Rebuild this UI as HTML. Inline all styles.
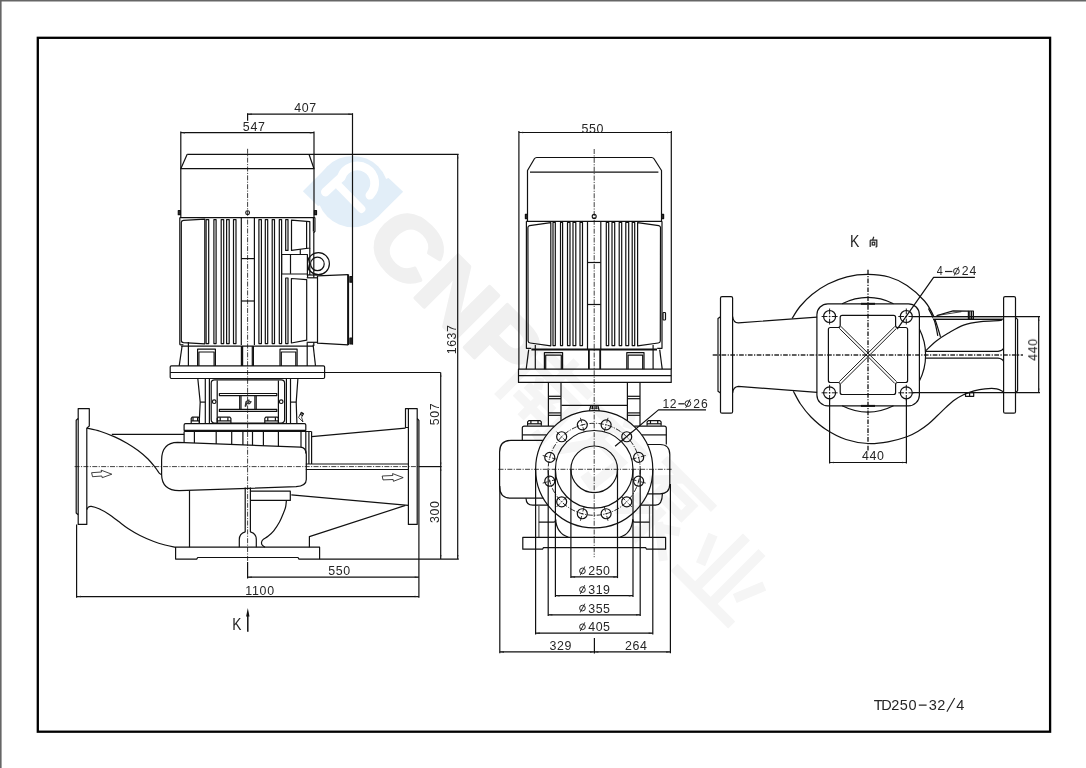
<!DOCTYPE html>
<html><head><meta charset="utf-8"><title>TD250-32/4</title>
<style>
html,body{margin:0;padding:0;background:#fff;}
body{width:1086px;height:768px;overflow:hidden;font-family:"Liberation Sans",sans-serif;}
svg{display:block;position:absolute;left:0;top:0;}
svg text{font-family:"Liberation Sans",sans-serif;fill:#262626;}
#txt{opacity:0.999;}
</style></head><body>
<svg width="1086" height="768" viewBox="0 0 1086 768">
<rect x="0" y="0" width="1086" height="768" fill="#fff"/>
<g id="wm">
<g fill="#e2eef8" stroke="none">
<circle cx="352.7" cy="191.6" r="35.7"/>
<path d="M327.5,166.4 L302.9,191.2 L318,206 L352.7,191.6Z"/>
<path d="M377.9,216.8 L403.1,191.8 L388.5,178 L352.7,191.6Z"/>
</g>
<g fill="none" stroke="#fff" stroke-linecap="round" stroke-linejoin="round">
<path d="M325.4,192 L341.1,177.4 A17.3,17.3 0 1 1 369.9,195.2" stroke-width="8.8"/>
<path d="M339.5,186.5 L361.5,209" stroke-width="7.8"/>
</g>
<g transform="translate(361.2,244.1) rotate(45) scale(1.1,1)">
<text x="0" y="0" font-size="88" font-weight="bold" style="fill:#f0f0f0;stroke:#f0f0f0;stroke-width:3.5;stroke-linejoin:round">CNP</text>
</g>
<g transform="translate(547,391) rotate(45) scale(1.1)" fill="none" stroke="#f5f5f5" stroke-width="8" stroke-linecap="butt" stroke-linejoin="miter">
<path d="M-32,-24 L32,-24"/>
<path d="M0,-38 L0,-12"/>
<path d="M-28,36 L-28,-10 L28,-10 L28,36 L18,34"/>
<path d="M-13,-4 L-7,5"/>
<path d="M13,-4 L7,5"/>
<path d="M-17,9 L17,9"/>
<path d="M-19,21 L19,21"/>
<path d="M0,9 L0,34"/>
</g>
<g transform="translate(603,446) rotate(45) scale(1.1)" fill="none" stroke="#f5f5f5" stroke-width="9" stroke-linecap="butt" stroke-linejoin="miter">
<path d="M-2,-38 L4,-27"/>
<path d="M-35,-20 L35,-20"/>
<path d="M-6,-20 L-10,8 L-30,36"/>
<path d="M-9,-1 L22,-1 L18,32 L6,30"/>
</g>
<g transform="translate(665,508) rotate(45) scale(1.1)" fill="none" stroke="#f5f5f5" stroke-width="8" stroke-linecap="butt" stroke-linejoin="miter">
<path d="M-32,-31 L32,-31"/>
<path d="M-6,-31 L-28,-8"/>
<path d="M-14,-19 L16,-19 L16,-5 L-14,-5 L-14,-19"/>
<path d="M0,2 L0,36 L-8,32"/>
<path d="M-28,11 L-9,11 L-31,33"/>
<path d="M25,6 L8,17"/>
<path d="M5,13 L33,35"/>
</g>
<g transform="translate(727,572) rotate(45) scale(1.1)" fill="none" stroke="#f5f5f5" stroke-width="9" stroke-linecap="butt" stroke-linejoin="miter">
<path d="M-10,-35 L-10,29"/>
<path d="M10,-35 L10,29"/>
<path d="M-33,-15 L-22,12"/>
<path d="M33,-15 L22,12"/>
<path d="M-37,31 L37,31"/>
</g>
</g>
<rect x="0" y="0" width="1086" height="1.5" fill="#666"/>
<rect x="0" y="0" width="1.6" height="768" fill="#666"/>
<rect x="37.8" y="37.8" width="1012.3" height="693.9" fill="none" stroke="#000" stroke-width="2.3"/>
<g fill="none" stroke="#111" stroke-width="1.2" stroke-linecap="butt" stroke-linejoin="round">
<line x1="247.60" y1="148.80" x2="247.60" y2="562.00" stroke-width="0.8" stroke-dasharray="5 1.35 1.15 1.35"/>
<line x1="74.60" y1="466.60" x2="419.00" y2="466.60" stroke-width="0.8" stroke-dasharray="5 1.35 1.15 1.35"/>
<line x1="418.90" y1="466.60" x2="441.60" y2="466.60"/>
<line x1="187.20" y1="154.30" x2="458.60" y2="154.30"/>
<path d="M187.20,154.30 L180.80,168.70 L314.00,168.70 L309.00,154.30"/>
<line x1="180.80" y1="131.50" x2="180.80" y2="217.60"/>
<line x1="314.00" y1="131.50" x2="314.00" y2="217.60"/>
<line x1="179.80" y1="217.60" x2="314.90" y2="217.60"/>
<rect x="178.30" y="210.50" width="2.10" height="4.20" rx="0" fill="#333"/>
<rect x="314.40" y="210.50" width="2.10" height="4.20" rx="0" fill="#333"/>
<circle cx="247.60" cy="212.70" r="1.90" stroke-width="1.1"/>
<line x1="179.80" y1="217.60" x2="179.80" y2="344.80"/>
<line x1="313.80" y1="231.40" x2="313.80" y2="277.80"/>
<line x1="313.80" y1="342.30" x2="313.80" y2="346.10"/>
<line x1="181.10" y1="346.10" x2="313.60" y2="346.10"/>
<path d="M181.3,222.5 Q181.3,220.7 183.5,220.4 L204.8,219.2 L204.8,343.8 L183.5,342.6 Q181.3,342.4 181.3,340.5 Z"/>
<rect x="206.10" y="219.60" width="2.60" height="124.00" rx="0"/>
<rect x="213.90" y="219.60" width="2.20" height="124.00" rx="0"/>
<rect x="221.20" y="219.60" width="2.50" height="124.00" rx="0"/>
<rect x="226.60" y="219.60" width="2.60" height="124.00" rx="0"/>
<rect x="233.50" y="219.60" width="2.50" height="124.00" rx="0"/>
<rect x="258.90" y="219.60" width="2.50" height="124.00" rx="0"/>
<rect x="265.30" y="219.60" width="2.40" height="124.00" rx="0"/>
<rect x="272.20" y="219.60" width="2.30" height="124.00" rx="0"/>
<rect x="279.30" y="219.60" width="2.30" height="124.00" rx="0"/>
<rect x="285.70" y="219.60" width="2.30" height="30.80" rx="0"/>
<rect x="285.70" y="278.00" width="2.30" height="65.60" rx="0"/>
<line x1="241.30" y1="217.60" x2="241.30" y2="345.00"/>
<line x1="254.40" y1="217.60" x2="254.40" y2="345.00"/>
<line x1="241.30" y1="258.60" x2="254.40" y2="258.60"/>
<line x1="241.30" y1="301.00" x2="254.40" y2="301.00"/>
<path d="M291.50,220.10 L309.80,221.60 L309.80,248.00 L291.50,250.40Z"/>
<line x1="306.60" y1="221.30" x2="306.60" y2="248.40"/>
<line x1="300.30" y1="249.30" x2="300.30" y2="254.50"/>
<line x1="313.40" y1="217.60" x2="313.40" y2="231.40"/>
<line x1="309.80" y1="248.00" x2="309.80" y2="275.00"/>
<path d="M314.90,217.60 L314.90,231.40 L313.80,232.60"/>
<rect x="281.60" y="254.50" width="25.80" height="19.50" rx="0"/>
<line x1="290.50" y1="254.50" x2="290.50" y2="273.80"/>
<clipPath id="ringclip"><rect x="307.4" y="250" width="30" height="30"/></clipPath>
<circle cx="318.4" cy="263.7" r="11" clip-path="url(#ringclip)"/>
<circle cx="317.40" cy="263.90" r="6.80"/>
<path d="M307.4,256.9 Q311.6,263.9 307.4,271.2"/>
<path d="M291.40,278.50 L306.70,279.70 L306.70,340.20 L291.40,343.00Z"/>
<line x1="306.70" y1="277.80" x2="317.50" y2="277.80"/>
<line x1="306.70" y1="342.30" x2="317.50" y2="342.30"/>
<line x1="307.60" y1="274.00" x2="307.60" y2="277.80"/>
<line x1="306.70" y1="275.00" x2="317.50" y2="275.00"/>
<path d="M348.10,274.60 L317.50,275.90 L317.50,343.20 L348.10,344.90"/>
<line x1="348.10" y1="274.30" x2="348.10" y2="345.10" stroke-width="2.0"/>
<rect x="349.90" y="276.60" width="2.30" height="5.60" rx="0" fill="#333"/>
<rect x="349.90" y="338.00" width="2.30" height="5.80" rx="0" fill="#333"/>
<line x1="352.50" y1="113.20" x2="352.50" y2="344.60"/>
<path d="M179.80,344.80 L183.40,344.80"/>
<path d="M182.10,346.00 L179.20,365.90"/>
<line x1="188.40" y1="342.00" x2="188.40" y2="365.90"/>
<path d="M313.10,344.80 L315.50,365.90"/>
<line x1="307.20" y1="342.80" x2="307.20" y2="365.90"/>
<path d="M197.60,365.90 L197.60,349.20 L215.40,349.20 L215.40,365.90"/>
<path d="M198.90,365.90 L198.90,352.00 L214.10,352.00 L214.10,365.90"/>
<path d="M280.00,365.90 L280.00,349.20 L297.10,349.20 L297.10,365.90"/>
<path d="M281.30,365.90 L281.30,352.00 L295.80,352.00 L295.80,365.90"/>
<line x1="241.40" y1="346.10" x2="241.40" y2="365.90"/>
<line x1="253.40" y1="346.10" x2="253.40" y2="365.90"/>
<line x1="242.60" y1="346.10" x2="242.60" y2="365.90"/>
<line x1="252.30" y1="346.10" x2="252.30" y2="365.90"/>
<rect x="170.20" y="365.90" width="154.40" height="12.60" rx="1.2"/>
<line x1="170.20" y1="372.50" x2="440.70" y2="372.50"/>
<path d="M197.80,378.50 L200.20,402.10 L199.20,422.80"/>
<line x1="200.20" y1="402.10" x2="205.30" y2="402.10"/>
<line x1="205.30" y1="378.50" x2="205.30" y2="423.00"/>
<line x1="209.40" y1="378.50" x2="209.40" y2="423.00"/>
<path d="M297.90,378.50 L296.20,402.10 L296.90,423.00"/>
<line x1="290.50" y1="402.10" x2="296.20" y2="402.10"/>
<line x1="286.40" y1="378.50" x2="286.40" y2="423.00"/>
<line x1="290.50" y1="378.50" x2="290.50" y2="423.00"/>
<rect x="211.20" y="379.80" width="73.40" height="43.20" rx="3.4"/>
<line x1="217.20" y1="380.50" x2="217.20" y2="422.50"/>
<line x1="278.40" y1="380.50" x2="278.40" y2="422.50"/>
<rect x="219.40" y="393.50" width="57.40" height="2.10" rx="0"/>
<rect x="219.40" y="409.40" width="57.40" height="2.00" rx="0"/>
<circle cx="214.20" cy="401.70" r="1.80"/>
<circle cx="281.20" cy="401.70" r="1.80"/>
<line x1="239.70" y1="395.60" x2="239.70" y2="409.40"/>
<line x1="241.00" y1="395.60" x2="241.00" y2="409.40"/>
<line x1="254.90" y1="395.60" x2="254.90" y2="409.40"/>
<line x1="256.20" y1="395.60" x2="256.20" y2="409.40"/>
<path d="M244.6,406.6 L245.4,401.6 L247.4,399.9 L249.3,399.3 L249.7,400.9 L251.7,400.9 L251.1,403 L249.1,404.4 L247.3,404.1 L246,406.9Z" fill="#333" stroke="none"/>
<path d="M246.6,402.6 L248.4,401.4 M248.8,402.9 L250.2,402" stroke="#ddd" stroke-width="0.6"/>
<path d="M191.20,423.00 L191.20,418.30 L192.20,417.20 L198.40,417.20 L199.40,418.30 L199.40,423.00"/>
<line x1="191.20" y1="420.90" x2="199.40" y2="420.90"/>
<line x1="193.00" y1="417.20" x2="193.00" y2="420.90"/>
<line x1="197.60" y1="417.20" x2="197.60" y2="420.90"/>
<path d="M217.20,423.00 L217.20,418.30 L218.20,417.20 L229.90,417.20 L230.90,418.30 L230.90,423.00"/>
<line x1="217.20" y1="420.90" x2="230.90" y2="420.90"/>
<line x1="220.21" y1="417.20" x2="220.21" y2="420.90"/>
<line x1="227.89" y1="417.20" x2="227.89" y2="420.90"/>
<path d="M264.80,423.00 L264.80,418.30 L265.80,417.20 L277.40,417.20 L278.40,418.30 L278.40,423.00"/>
<line x1="264.80" y1="420.90" x2="278.40" y2="420.90"/>
<line x1="267.79" y1="417.20" x2="267.79" y2="420.90"/>
<line x1="275.41" y1="417.20" x2="275.41" y2="420.90"/>
<path d="M298.6,417.5 L301.2,412.2 L303.6,413.4 L301.6,417.2 L303,422Z" fill="none" stroke-width="0.8"/>
<path d="M300.8,412.6 L303.8,414.2 M300,414.2 L303,415.8" stroke-width="1.2"/>
<path d="M184.1,430.3 L184.1,425 Q184.1,423.6 185.5,423.6 L304.4,423.6 Q305.8,423.6 305.8,425 L305.8,430.3Z"/>
<line x1="184.10" y1="431.50" x2="311.50" y2="431.50"/>
<line x1="184.10" y1="431.50" x2="184.10" y2="442.62"/>
<line x1="194.40" y1="431.50" x2="194.40" y2="443.02"/>
<line x1="216.20" y1="431.50" x2="216.20" y2="443.88"/>
<line x1="231.70" y1="431.50" x2="231.70" y2="444.49"/>
<line x1="242.90" y1="431.50" x2="242.90" y2="444.94"/>
<line x1="252.50" y1="431.50" x2="252.50" y2="445.31"/>
<line x1="263.40" y1="431.50" x2="263.40" y2="445.74"/>
<line x1="278.40" y1="431.50" x2="278.40" y2="446.34"/>
<line x1="301.00" y1="431.50" x2="301.00" y2="447.23"/>
<line x1="305.80" y1="431.50" x2="305.80" y2="453.40"/>
<path d="M300.3,447.2 L177.6,442.4 Q161.6,442.6 161.6,460.3 L161.6,474.5 Q161.8,490.4 179.1,490.7 L296.1,486.7 Q306.3,486 306.3,479.5 L306.3,454 Q306,447.6 300.3,447.2"/>
<path d="M78.20,408.60 L89.30,408.60 L89.30,426.00 L86.80,428.10 L86.80,524.40 L78.20,524.40Z"/>
<path d="M78.20,418.50 L76.20,420.30 L76.20,513.00 L78.20,514.80"/>
<path d="M86.80,428.10 C89.00,428.62 95.35,429.73 100.00,431.20 C104.65,432.67 110.20,434.90 114.70,436.90 C119.20,438.90 123.10,440.93 127.00,443.20 C130.90,445.47 134.60,447.87 138.10,450.50 C141.60,453.13 145.07,456.07 148.00,459.00 C150.93,461.93 153.87,465.80 155.70,468.10 C157.53,470.40 158.08,471.75 159.00,472.80 C159.92,473.85 160.83,474.13 161.20,474.40"/>
<line x1="111.80" y1="434.30" x2="184.10" y2="434.30"/>
<path d="M86.80,509.60 C87.05,509.20 87.55,507.73 88.30,507.20 C89.05,506.67 89.52,506.13 91.30,506.40 C93.08,506.67 96.08,507.50 99.00,508.80 C101.92,510.10 105.63,512.17 108.80,514.20 C111.97,516.23 114.73,518.57 118.00,521.00 C121.27,523.43 124.73,526.38 128.40,528.80 C132.07,531.22 135.77,533.38 140.00,535.50 C144.23,537.62 149.63,539.92 153.80,541.50 C157.97,543.08 161.40,544.02 165.00,545.00 C168.60,545.98 173.67,547.00 175.40,547.40"/>
<path d="M91.6,472.7 L101.5,472 L101.2,470.2 L111.8,474.2 L102.2,477.7 L101.9,476 L92.5,476.7Z" stroke-width="0.8"/>
<line x1="189.50" y1="490.50" x2="189.50" y2="547.20"/>
<path d="M245.2,487.6 L245.2,531.8 Q239.3,533.5 239.3,539.5 L239.3,547.2"/>
<path d="M250.4,487.4 L250.4,531.8 Q256.3,533.5 256.3,539.5 L256.3,547.2"/>
<path d="M250.40,491.20 L290.30,491.20 L290.30,500.40 L250.40,500.40"/>
<path d="M286.40,500.40 C286.27,501.50 286.10,504.87 285.60,507.00 C285.10,509.13 284.42,510.70 283.40,513.20 C282.38,515.70 281.12,519.07 279.50,522.00 C277.88,524.93 275.62,528.42 273.70,530.80 C271.78,533.18 269.78,534.83 268.00,536.30 C266.22,537.77 264.07,538.65 263.00,539.60 C261.93,540.55 261.77,541.13 261.60,542.00 C261.43,542.87 261.45,543.93 262.00,544.80 C262.55,545.67 264.42,546.80 264.90,547.20"/>
<path d="M175.60,547.20 L319.60,547.20 L319.60,559.10 L299.00,559.10 L298.00,557.50 L197.70,557.50 L196.70,559.10 L175.60,559.10Z"/>
<line x1="319.60" y1="559.10" x2="458.80" y2="559.10"/>
<line x1="308.90" y1="431.50" x2="308.90" y2="464.00"/>
<line x1="311.60" y1="431.50" x2="311.60" y2="464.00"/>
<line x1="311.60" y1="436.60" x2="405.50" y2="428.10"/>
<path d="M408.40,408.60 L417.20,408.60 L417.20,524.40 L408.40,524.40Z"/>
<path d="M408.40,408.60 L405.50,408.60 L405.50,427.50 L408.40,427.50"/>
<path d="M417.20,418.50 L418.90,420.30 L418.90,513.00"/>
<line x1="418.90" y1="513.00" x2="418.90" y2="597.80"/>
<line x1="305.80" y1="464.00" x2="408.40" y2="464.00"/>
<line x1="305.80" y1="469.50" x2="408.40" y2="469.50"/>
<line x1="291.30" y1="494.90" x2="405.50" y2="505.20"/>
<line x1="405.50" y1="505.20" x2="408.40" y2="505.40"/>
<path d="M405.50,505.40 L309.40,536.60 L309.40,547.20"/>
<path d="M382.2,476 L392.8,475.5 L392.6,473.6 L403.2,477.6 L393.4,481.3 L393.2,479.5 L383,479.9Z" stroke-width="0.8"/>
<line x1="247.60" y1="113.20" x2="247.60" y2="120.80"/>
<line x1="247.60" y1="114.20" x2="352.50" y2="114.20"/>
<path d="M247.60,114.20 L251.80,113.45 L251.80,114.95Z" fill="#222" stroke="none"/>
<path d="M352.50,114.20 L348.30,114.95 L348.30,113.45Z" fill="#222" stroke="none"/>
<line x1="180.80" y1="132.70" x2="314.00" y2="132.70"/>
<path d="M180.80,132.70 L185.00,131.95 L185.00,133.45Z" fill="#222" stroke="none"/>
<path d="M314.00,132.70 L309.80,133.45 L309.80,131.95Z" fill="#222" stroke="none"/>
<line x1="457.70" y1="154.30" x2="457.70" y2="559.10"/>
<path d="M457.70,154.30 L458.45,158.50 L456.95,158.50Z" fill="#222" stroke="none"/>
<path d="M457.70,559.10 L456.95,554.90 L458.45,554.90Z" fill="#222" stroke="none"/>
<line x1="440.70" y1="372.60" x2="440.70" y2="466.60"/>
<path d="M440.70,372.60 L441.45,376.80 L439.95,376.80Z" fill="#222" stroke="none"/>
<path d="M440.70,466.60 L439.95,462.40 L441.45,462.40Z" fill="#222" stroke="none"/>
<line x1="440.70" y1="466.60" x2="440.70" y2="559.10"/>
<path d="M440.70,466.60 L441.45,470.80 L439.95,470.80Z" fill="#222" stroke="none"/>
<path d="M440.70,559.10 L439.95,554.90 L441.45,554.90Z" fill="#222" stroke="none"/>
<line x1="247.60" y1="562.00" x2="247.60" y2="578.50"/>
<line x1="247.60" y1="577.20" x2="418.90" y2="577.20"/>
<path d="M247.60,577.20 L251.80,576.45 L251.80,577.95Z" fill="#222" stroke="none"/>
<path d="M418.90,577.20 L414.70,577.95 L414.70,576.45Z" fill="#222" stroke="none"/>
<line x1="76.60" y1="524.40" x2="76.60" y2="597.80"/>
<line x1="76.60" y1="596.60" x2="418.90" y2="596.60"/>
<path d="M76.60,596.60 L80.80,595.85 L80.80,597.35Z" fill="#222" stroke="none"/>
<path d="M418.90,596.60 L414.70,597.35 L414.70,595.85Z" fill="#222" stroke="none"/>
<line x1="247.80" y1="614.00" x2="247.80" y2="631.70" stroke-width="1.5"/>
<path d="M247.8,608 L249.5,616.5 L246.1,616.5Z" fill="#111" stroke="none"/>
<line x1="594.20" y1="149.00" x2="594.20" y2="557.20" stroke-width="0.8" stroke-dasharray="5 1.35 1.15 1.35"/>
<line x1="498.50" y1="469.30" x2="672.80" y2="469.30" stroke-width="0.8" stroke-dasharray="5 1.35 1.15 1.35"/>
<line x1="518.90" y1="131.00" x2="518.90" y2="369.30"/>
<line x1="671.30" y1="131.00" x2="671.30" y2="369.30"/>
<line x1="518.90" y1="132.50" x2="671.30" y2="132.50"/>
<path d="M518.90,132.50 L523.10,131.75 L523.10,133.25Z" fill="#222" stroke="none"/>
<path d="M671.30,132.50 L667.10,133.25 L667.10,131.75Z" fill="#222" stroke="none"/>
<path d="M527.5,221.3 L527.5,170.5 L534.4,158.8 Q535.2,157.5 536.8,157.5 L651.6,157.5 Q653.2,157.5 654,158.8 L661.5,170.5 L661.5,221.3"/>
<line x1="530.00" y1="172.10" x2="658.40" y2="172.10"/>
<rect x="525.40" y="214.30" width="1.90" height="4.30" rx="0" fill="#333"/>
<rect x="661.70" y="214.30" width="1.90" height="4.30" rx="0" fill="#333"/>
<circle cx="594.20" cy="216.40" r="2.00" stroke-width="1.1"/>
<line x1="526.20" y1="221.30" x2="662.00" y2="221.30"/>
<path d="M526.40,221.30 L526.40,348.30 L531.20,348.30"/>
<path d="M662.00,221.30 L662.00,348.30 L657.20,348.30"/>
<line x1="531.40" y1="349.50" x2="657.00" y2="349.50" stroke-width="2.2"/>
<path d="M527.9,227.5 Q527.9,226 529.6,225.6 L550.8,222.6 L550.8,345.8 L530.2,343 Q528.2,342.7 528.1,341Z"/>
<path d="M660.5,227.5 Q660.5,226 658.8,225.6 L637.6,222.6 L637.6,345.8 L658.2,343 Q660.2,342.7 660.3,341Z"/>
<rect x="553.00" y="222.40" width="2.30" height="123.20" rx="0"/>
<rect x="560.50" y="222.40" width="2.10" height="123.20" rx="0"/>
<rect x="567.50" y="222.40" width="2.50" height="123.20" rx="0"/>
<rect x="573.00" y="222.40" width="2.80" height="123.20" rx="0"/>
<rect x="580.00" y="222.40" width="2.50" height="123.20" rx="0"/>
<rect x="606.30" y="222.40" width="2.40" height="123.20" rx="0"/>
<rect x="612.00" y="222.40" width="2.70" height="123.20" rx="0"/>
<rect x="619.20" y="222.40" width="2.50" height="123.20" rx="0"/>
<rect x="625.80" y="222.40" width="2.90" height="123.20" rx="0"/>
<rect x="632.20" y="222.40" width="2.50" height="123.20" rx="0"/>
<line x1="587.50" y1="221.30" x2="587.50" y2="349.00"/>
<line x1="600.80" y1="221.30" x2="600.80" y2="349.00"/>
<line x1="587.50" y1="262.50" x2="600.80" y2="262.50"/>
<line x1="587.50" y1="304.50" x2="600.80" y2="304.50"/>
<rect x="663.00" y="312.50" width="2.50" height="7.50" rx="0.8"/>
<path d="M528.70,349.70 L526.20,369.10"/>
<line x1="535.30" y1="345.00" x2="535.30" y2="369.10"/>
<path d="M659.70,349.70 L662.20,369.10"/>
<line x1="653.10" y1="345.00" x2="653.10" y2="369.10"/>
<path d="M544.40,369.30 L544.40,352.60 L562.60,352.60 L562.60,369.30"/>
<path d="M545.70,369.30 L545.70,355.20 L561.30,355.20 L561.30,369.30"/>
<path d="M626.80,369.30 L626.80,352.60 L644.00,352.60 L644.00,369.30"/>
<path d="M628.10,369.30 L628.10,355.20 L642.70,355.20 L642.70,369.30"/>
<line x1="588.90" y1="349.50" x2="588.90" y2="369.10" stroke-width="1.8"/>
<line x1="600.20" y1="349.50" x2="600.20" y2="369.10" stroke-width="1.8"/>
<rect x="518.50" y="369.10" width="152.70" height="13.30" rx="0"/>
<line x1="518.50" y1="375.60" x2="671.20" y2="375.60" stroke-width="1.35"/>
<line x1="548.40" y1="382.40" x2="548.40" y2="426.10"/>
<line x1="561.00" y1="382.40" x2="561.00" y2="420.90"/>
<line x1="548.40" y1="396.30" x2="561.00" y2="396.30"/>
<line x1="548.40" y1="398.70" x2="561.00" y2="398.70"/>
<line x1="548.40" y1="412.90" x2="561.00" y2="412.90"/>
<line x1="548.40" y1="415.30" x2="561.00" y2="415.30"/>
<line x1="627.40" y1="382.40" x2="627.40" y2="420.90"/>
<line x1="640.00" y1="382.40" x2="640.00" y2="426.10"/>
<line x1="627.40" y1="396.30" x2="640.00" y2="396.30"/>
<line x1="627.40" y1="398.70" x2="640.00" y2="398.70"/>
<line x1="627.40" y1="412.90" x2="640.00" y2="412.90"/>
<line x1="627.40" y1="415.30" x2="640.00" y2="415.30"/>
<line x1="561.50" y1="405.30" x2="627.60" y2="405.30"/>
<path d="M589.40,410.90 L590.80,405.60 L597.90,405.60 L599.20,410.90"/>
<line x1="592.40" y1="405.60" x2="592.40" y2="409.20"/>
<line x1="596.10" y1="405.60" x2="596.10" y2="409.20"/>
<line x1="590.40" y1="408.20" x2="598.40" y2="408.20" stroke-width="0.8"/>
<path d="M527.60,425.80 L527.60,421.80 L528.80,420.60 L540.10,420.60 L541.30,421.80 L541.30,425.80"/>
<line x1="527.60" y1="423.80" x2="541.30" y2="423.80"/>
<line x1="530.89" y1="420.60" x2="530.89" y2="423.80"/>
<line x1="538.01" y1="420.60" x2="538.01" y2="423.80"/>
<path d="M647.10,425.80 L647.10,421.80 L648.30,420.60 L659.90,420.60 L661.10,421.80 L661.10,425.80"/>
<line x1="647.10" y1="423.80" x2="661.10" y2="423.80"/>
<line x1="650.46" y1="420.60" x2="650.46" y2="423.80"/>
<line x1="657.74" y1="420.60" x2="657.74" y2="423.80"/>
<path d="M554.2,426.1 L524.3,426.1 Q522.3,426.1 522.3,428.1 L522.3,440.4"/>
<path d="M634.2,426.1 L664.3,426.1 Q666.3,426.1 666.3,428.1 L666.3,444.5"/>
<line x1="522.30" y1="434.90" x2="546.80" y2="434.90"/>
<line x1="641.80" y1="434.90" x2="666.30" y2="434.90"/>
<path d="M543.2,440.4 L511,440.4 Q499.6,440.4 499.6,452.1 L499.6,486.5 Q499.6,498.2 511,498.2 L543.2,498.2"/>
<path d="M647.3,444.5 L660,444.5 Q669.8,444.5 669.8,454.5 L669.8,483.8 Q669.8,493.8 660,493.8 L647.3,493.8"/>
<circle cx="594.20" cy="469.30" r="58.60"/>
<circle cx="594.20" cy="469.30" r="38.80"/>
<circle cx="594.20" cy="469.30" r="23.30"/>
<circle cx="594.20" cy="469.30" r="46.00" stroke-dasharray="5.2 1.4 1.2 1.4" stroke-width="0.9"/>
<circle cx="606.11" cy="424.87" r="5.00"/>
<line x1="604.22" y1="431.92" x2="608.00" y2="417.82" stroke-width="0.85" stroke-dasharray="5 1.6 1.4 1.6 5"/>
<circle cx="626.73" cy="436.77" r="5.00"/>
<line x1="621.57" y1="441.93" x2="631.89" y2="431.61" stroke-width="0.85" stroke-dasharray="5 1.6 1.4 1.6 5"/>
<circle cx="638.63" cy="457.39" r="5.00"/>
<line x1="631.58" y1="459.28" x2="645.68" y2="455.50" stroke-width="0.85" stroke-dasharray="5 1.6 1.4 1.6 5"/>
<circle cx="638.63" cy="481.21" r="5.00"/>
<line x1="631.58" y1="479.32" x2="645.68" y2="483.10" stroke-width="0.85" stroke-dasharray="5 1.6 1.4 1.6 5"/>
<circle cx="626.73" cy="501.83" r="5.00"/>
<line x1="621.57" y1="496.67" x2="631.89" y2="506.99" stroke-width="0.85" stroke-dasharray="5 1.6 1.4 1.6 5"/>
<circle cx="606.11" cy="513.73" r="5.00"/>
<line x1="604.22" y1="506.68" x2="608.00" y2="520.78" stroke-width="0.85" stroke-dasharray="5 1.6 1.4 1.6 5"/>
<circle cx="582.29" cy="513.73" r="5.00"/>
<line x1="584.18" y1="506.68" x2="580.40" y2="520.78" stroke-width="0.85" stroke-dasharray="5 1.6 1.4 1.6 5"/>
<circle cx="561.67" cy="501.83" r="5.00"/>
<line x1="566.83" y1="496.67" x2="556.51" y2="506.99" stroke-width="0.85" stroke-dasharray="5 1.6 1.4 1.6 5"/>
<circle cx="549.77" cy="481.21" r="5.00"/>
<line x1="556.82" y1="479.32" x2="542.72" y2="483.10" stroke-width="0.85" stroke-dasharray="5 1.6 1.4 1.6 5"/>
<circle cx="549.77" cy="457.39" r="5.00"/>
<line x1="556.82" y1="459.28" x2="542.72" y2="455.50" stroke-width="0.85" stroke-dasharray="5 1.6 1.4 1.6 5"/>
<circle cx="561.67" cy="436.77" r="5.00"/>
<line x1="566.83" y1="441.93" x2="556.51" y2="431.61" stroke-width="0.85" stroke-dasharray="5 1.6 1.4 1.6 5"/>
<circle cx="582.29" cy="424.87" r="5.00"/>
<line x1="584.18" y1="431.92" x2="580.40" y2="417.82" stroke-width="0.85" stroke-dasharray="5 1.6 1.4 1.6 5"/>
<path d="M526,498.2 Q526.2,505.2 532.8,505.2 L547.6,505.2"/>
<path d="M662.4,493.8 Q662.2,505.2 655.6,505.2 L640.8,505.2"/>
<line x1="538.90" y1="505.20" x2="538.90" y2="537.20" stroke="#555"/>
<line x1="649.50" y1="505.20" x2="649.50" y2="537.20" stroke="#555"/>
<path d="M538.9,522.1 L553.6,522.1 Q555.6,522.1 555.6,520"/>
<path d="M649.5,522.1 L634.8,522.1 Q632.8,522.1 632.8,520"/>
<path d="M555.6,519 Q556.5,533.5 568.5,537.2"/>
<path d="M632.8,519 Q631.9,533.5 619.9,537.2"/>
<path d="M522.80,537.30 L665.60,537.30 L665.60,549.20 L646.60,549.20 L645.60,547.60 L543.50,547.60 L542.50,549.20 L522.80,549.20Z"/>
<line x1="570.90" y1="469.30" x2="570.90" y2="578.10"/>
<line x1="617.50" y1="469.30" x2="617.50" y2="578.10"/>
<line x1="570.90" y1="576.90" x2="617.50" y2="576.90"/>
<path d="M570.90,576.90 L575.10,576.15 L575.10,577.65Z" fill="#222" stroke="none"/>
<path d="M617.50,576.90 L613.30,577.65 L613.30,576.15Z" fill="#222" stroke="none"/>
<line x1="555.40" y1="469.30" x2="555.40" y2="596.90"/>
<line x1="633.00" y1="469.30" x2="633.00" y2="596.90"/>
<line x1="555.40" y1="595.70" x2="633.00" y2="595.70"/>
<path d="M555.40,595.70 L559.60,594.95 L559.60,596.45Z" fill="#222" stroke="none"/>
<path d="M633.00,595.70 L628.80,596.45 L628.80,594.95Z" fill="#222" stroke="none"/>
<line x1="548.20" y1="469.30" x2="548.20" y2="616.00"/>
<line x1="640.20" y1="469.30" x2="640.20" y2="616.00"/>
<line x1="548.20" y1="614.80" x2="640.20" y2="614.80"/>
<path d="M548.20,614.80 L552.40,614.05 L552.40,615.55Z" fill="#222" stroke="none"/>
<path d="M640.20,614.80 L636.00,615.55 L636.00,614.05Z" fill="#222" stroke="none"/>
<line x1="535.60" y1="469.30" x2="535.60" y2="634.40"/>
<line x1="652.80" y1="469.30" x2="652.80" y2="634.40"/>
<line x1="535.60" y1="633.20" x2="652.80" y2="633.20"/>
<path d="M535.60,633.20 L539.80,632.45 L539.80,633.95Z" fill="#222" stroke="none"/>
<path d="M652.80,633.20 L648.60,633.95 L648.60,632.45Z" fill="#222" stroke="none"/>
<line x1="499.80" y1="486.00" x2="499.80" y2="653.30"/>
<line x1="670.40" y1="484.00" x2="670.40" y2="653.30"/>
<line x1="499.80" y1="651.90" x2="594.20" y2="651.90"/>
<path d="M499.80,651.90 L504.00,651.15 L504.00,652.65Z" fill="#222" stroke="none"/>
<path d="M594.20,651.90 L590.00,652.65 L590.00,651.15Z" fill="#222" stroke="none"/>
<line x1="594.20" y1="651.90" x2="670.40" y2="651.90"/>
<path d="M594.20,651.90 L598.40,651.15 L598.40,652.65Z" fill="#222" stroke="none"/>
<path d="M670.40,651.90 L666.20,652.65 L666.20,651.15Z" fill="#222" stroke="none"/>
<line x1="594.40" y1="638.10" x2="594.40" y2="653.50" stroke-width="1.2"/>
<path d="M615.10,446.30 L658.50,409.90 L706.00,409.90"/>
<line x1="868.00" y1="269.80" x2="868.00" y2="450.40" stroke-width="1.45" stroke="#2a2a2a" stroke-dasharray="4.7 1.45 1.2 1.45"/>
<line x1="712.70" y1="354.90" x2="1023.00" y2="354.90" stroke-width="1.45" stroke="#2a2a2a" stroke-dasharray="4.7 1.45 1.2 1.45"/>
<rect x="816.90" y="303.80" width="102.50" height="102.10" rx="11"/>
<circle cx="829.60" cy="316.50" r="6.00"/>
<line x1="821.60" y1="316.50" x2="837.60" y2="316.50" stroke-width="0.95" stroke-dasharray="5.8 1.4 1.6 1.4 5.8"/>
<line x1="829.60" y1="308.50" x2="829.60" y2="324.50" stroke-width="0.95" stroke-dasharray="5.8 1.4 1.6 1.4 5.8"/>
<circle cx="906.30" cy="316.50" r="6.00"/>
<line x1="898.30" y1="316.50" x2="914.30" y2="316.50" stroke-width="0.95" stroke-dasharray="5.8 1.4 1.6 1.4 5.8"/>
<line x1="906.30" y1="308.50" x2="906.30" y2="324.50" stroke-width="0.95" stroke-dasharray="5.8 1.4 1.6 1.4 5.8"/>
<circle cx="829.60" cy="392.80" r="6.00"/>
<line x1="821.60" y1="392.80" x2="837.60" y2="392.80" stroke-width="0.95" stroke-dasharray="5.8 1.4 1.6 1.4 5.8"/>
<line x1="829.60" y1="384.80" x2="829.60" y2="400.80" stroke-width="0.95" stroke-dasharray="5.8 1.4 1.6 1.4 5.8"/>
<circle cx="906.30" cy="392.80" r="6.00"/>
<line x1="898.30" y1="392.80" x2="914.30" y2="392.80" stroke-width="0.95" stroke-dasharray="5.8 1.4 1.6 1.4 5.8"/>
<line x1="906.30" y1="384.80" x2="906.30" y2="400.80" stroke-width="0.95" stroke-dasharray="5.8 1.4 1.6 1.4 5.8"/>
<path d="M842.2,315.4 L893.6,315.4 Q895.6,315.4 895.6,317.4 L895.6,325.5 Q895.6,327.5 897.6,327.5 L905.6,327.5 Q907.6,327.5 907.6,329.5 L907.6,380.5 Q907.6,382.5 905.6,382.5 L897.6,382.5 Q895.6,382.5 895.6,384.5 L895.6,392.5 Q895.6,394.5 893.6,394.5 L842.2,394.5 Q840.2,394.5 840.2,392.5 L840.2,384.5 Q840.2,382.5 838.2,382.5 L830.4,382.5 Q828.4,382.5 828.4,380.5 L828.4,329.5 Q828.4,327.5 830.4,327.5 L838.2,327.5 Q840.2,327.5 840.2,325.5 L840.2,317.4 Q840.2,315.4 842.2,315.4Z"/>
<line x1="839.32" y1="328.39" x2="867.12" y2="355.79" stroke-width="0.95"/>
<line x1="841.08" y1="326.61" x2="868.88" y2="354.01" stroke-width="0.95"/>
<line x1="894.72" y1="326.61" x2="867.12" y2="354.01" stroke-width="0.95"/>
<line x1="896.48" y1="328.39" x2="868.88" y2="355.79" stroke-width="0.95"/>
<line x1="841.08" y1="383.39" x2="868.88" y2="355.79" stroke-width="0.95"/>
<line x1="839.32" y1="381.61" x2="867.12" y2="354.01" stroke-width="0.95"/>
<line x1="896.48" y1="381.62" x2="868.88" y2="354.02" stroke-width="0.95"/>
<line x1="894.72" y1="383.38" x2="867.12" y2="355.78" stroke-width="0.95"/>
<path d="M842.1,303.7 Q868,291 893.5,303.7"/>
<path d="M842.1,405.8 Q868,418.6 893.5,405.8"/>
<line x1="860.90" y1="303.80" x2="875.00" y2="303.80" stroke-width="2.0"/>
<line x1="860.90" y1="405.90" x2="875.00" y2="405.90" stroke-width="2.0"/>
<path d="M919.4,329 A57.5,57.5 0 0 1 919.4,381"/>
<path d="M792.10,318.40 C793.42,316.42 796.68,310.48 800.00,306.50 C803.32,302.52 807.33,298.25 812.00,294.50 C816.67,290.75 822.17,286.95 828.00,284.00 C833.83,281.05 840.33,278.40 847.00,276.80 C853.67,275.20 861.00,274.37 868.00,274.40 C875.00,274.43 882.50,275.15 889.00,277.00 C895.50,278.85 901.08,281.50 907.00,285.50 C912.92,289.50 920.00,295.75 924.50,301.00 C929.00,306.25 931.33,311.02 934.00,317.00 C936.67,322.98 939.42,333.58 940.50,336.90"/>
<path d="M928.40,308.60 C929.42,310.67 932.93,316.45 934.50,321.00 C936.07,325.55 937.25,333.42 937.80,335.90"/>
<path d="M793.40,391.20 C794.58,393.33 797.57,399.70 800.50,404.00 C803.43,408.30 806.75,412.75 811.00,417.00 C815.25,421.25 820.17,425.75 826.00,429.50 C831.83,433.25 839.00,437.17 846.00,439.50 C853.00,441.83 861.00,443.12 868.00,443.50 C875.00,443.88 881.52,442.93 888.00,441.80 C894.48,440.67 901.82,438.50 906.90,436.70 C911.98,434.90 914.92,433.12 918.50,431.00 C922.08,428.88 925.23,426.58 928.40,424.00 C931.57,421.42 934.58,418.27 937.50,415.50 C940.42,412.73 943.07,409.98 945.90,407.40 C948.73,404.82 951.57,402.12 954.50,400.00 C957.43,397.88 960.25,396.23 963.50,394.70 C966.75,393.17 970.42,391.78 974.00,390.80 C977.58,389.82 981.22,389.13 985.00,388.80 C988.78,388.47 993.60,388.30 996.70,388.80 C999.80,389.30 1002.45,391.30 1003.60,391.80"/>
<path d="M722,296.6 L731.1,296.6 Q732.6,296.6 732.6,298.1 L732.6,411.7 Q732.6,413.2 731.1,413.2 L722,413.2 Q720.5,413.2 720.5,411.7 L720.5,298.1 Q720.5,296.6 722,296.6Z"/>
<path d="M720.50,316.70 L718.00,318.60 L718.00,391.20 L720.50,393.10"/>
<path d="M732.6,316.5 Q733.2,322.6 738.3,322.9 L817.1,317.1"/>
<path d="M732.6,393 Q733.2,386.9 738.3,386.4 L817.1,392.4"/>
<path d="M1005.1,296.6 L1014,296.6 Q1015.5,296.6 1015.5,298.1 L1015.5,411.7 Q1015.5,413.2 1014,413.2 L1005.1,413.2 Q1003.6,413.2 1003.6,411.7 L1003.6,298.1 Q1003.6,296.6 1005.1,296.6Z"/>
<path d="M1015.50,317.50 L1017.60,319.40 L1017.60,390.80 L1015.50,392.70"/>
<path d="M925.70,350.80 C927.42,349.20 932.28,344.12 936.00,341.20 C939.72,338.28 943.40,335.98 948.00,333.30 C952.60,330.62 958.10,327.05 963.60,325.10 C969.10,323.15 975.18,322.33 981.00,321.60 C986.82,320.87 995.07,320.95 998.50,320.70 C1001.93,320.45 1000.92,320.47 1001.60,320.10 C1002.28,319.73 1002.43,318.77 1002.60,318.50"/>
<path d="M925.3,351.3 L998,351.3 Q1002.5,350.9 1003.6,348.3" stroke-width="1.3"/>
<path d="M925.3,358.1 L998,358.1 Q1002.5,358.6 1003.6,361.3" stroke-width="1.3"/>
<rect x="933.1" y="316.6" width="69.3" height="2.8" fill="#cfcfcf" stroke="none"/>
<line x1="933.10" y1="319.40" x2="1002.40" y2="319.40"/>
<path d="M937.00,316.40 L937.00,315.50 L953.10,310.90 L968.40,311.10"/>
<line x1="937.00" y1="315.50" x2="961.40" y2="311.70" stroke-width="0.8"/>
<rect x="968.40" y="311.00" width="5.00" height="8.40" rx="0"/>
<line x1="969.80" y1="311.00" x2="969.80" y2="319.40"/>
<line x1="971.60" y1="311.00" x2="971.60" y2="319.40"/>
<rect x="965.50" y="392.70" width="8.20" height="3.60" rx="0"/>
<line x1="969.60" y1="392.70" x2="969.60" y2="396.30"/>
<line x1="912.40" y1="316.70" x2="1040.00" y2="316.70"/>
<line x1="912.40" y1="392.70" x2="1040.00" y2="392.70"/>
<line x1="1038.70" y1="316.70" x2="1038.70" y2="392.70"/>
<path d="M1038.70,316.70 L1039.45,320.90 L1037.95,320.90Z" fill="#222" stroke="none"/>
<path d="M1038.70,392.70 L1037.95,388.50 L1039.45,388.50Z" fill="#222" stroke="none"/>
<line x1="829.60" y1="399.00" x2="829.60" y2="463.60"/>
<line x1="906.40" y1="399.00" x2="906.40" y2="463.60"/>
<line x1="829.60" y1="462.50" x2="906.40" y2="462.50"/>
<path d="M829.60,462.50 L833.80,461.75 L833.80,463.25Z" fill="#222" stroke="none"/>
<path d="M906.40,462.50 L902.20,463.25 L902.20,461.75Z" fill="#222" stroke="none"/>
<path d="M897.20,329.10 L933.60,277.30 L974.90,277.30"/>
</g>
<g id="txt">
<text x="305.10" y="112.30" font-size="12.4" text-anchor="middle" textLength="21.9" lengthAdjust="spacing">407</text>
<text x="253.90" y="131.00" font-size="12.4" text-anchor="middle" textLength="22.1" lengthAdjust="spacing">547</text>
<text x="456.20" y="339.70" font-size="12.4" text-anchor="middle" transform="rotate(-90 456.20 339.70)" textLength="29.2" lengthAdjust="spacing">1637</text>
<text x="438.60" y="414.40" font-size="12.4" text-anchor="middle" transform="rotate(-90 438.60 414.40)" textLength="21.9" lengthAdjust="spacing">507</text>
<text x="438.60" y="512.00" font-size="12.4" text-anchor="middle" transform="rotate(-90 438.60 512.00)" textLength="21.9" lengthAdjust="spacing">300</text>
<text x="339.10" y="575.20" font-size="12.4" text-anchor="middle" textLength="21.9" lengthAdjust="spacing">550</text>
<text x="259.70" y="594.80" font-size="12.4" text-anchor="middle" textLength="29.0" lengthAdjust="spacing">1100</text>
<text x="236.80" y="630.30" font-size="16.6" text-anchor="middle" textLength="9.2" lengthAdjust="spacingAndGlyphs">K</text>
<text x="592.50" y="132.60" font-size="12.4" text-anchor="middle" textLength="21.9" lengthAdjust="spacing">550</text>
<g fill="none" stroke="#262626" stroke-width="1.0"><circle cx="582.45" cy="570.90" r="2.85"/><path d="M580.25,575.20 L584.75,566.50"/></g>
<text x="588.35" y="575.30" font-size="12.4" text-anchor="start" textLength="21.6" lengthAdjust="spacing">250</text>
<g fill="none" stroke="#262626" stroke-width="1.0"><circle cx="582.45" cy="589.60" r="2.85"/><path d="M580.25,593.90 L584.75,585.20"/></g>
<text x="588.35" y="594.00" font-size="12.4" text-anchor="start" textLength="21.6" lengthAdjust="spacing">319</text>
<g fill="none" stroke="#262626" stroke-width="1.0"><circle cx="582.45" cy="608.10" r="2.85"/><path d="M580.25,612.40 L584.75,603.70"/></g>
<text x="588.35" y="612.50" font-size="12.4" text-anchor="start" textLength="21.6" lengthAdjust="spacing">355</text>
<g fill="none" stroke="#262626" stroke-width="1.0"><circle cx="582.45" cy="626.80" r="2.85"/><path d="M580.25,631.10 L584.75,622.40"/></g>
<text x="588.35" y="631.20" font-size="12.4" text-anchor="start" textLength="21.6" lengthAdjust="spacing">405</text>
<text x="560.40" y="649.70" font-size="12.4" text-anchor="middle" textLength="21.9" lengthAdjust="spacing">329</text>
<text x="636.00" y="649.70" font-size="12.4" text-anchor="middle" textLength="21.9" lengthAdjust="spacing">264</text>
<text x="662.60" y="407.90" font-size="12.1" text-anchor="start" textLength="13.8" lengthAdjust="spacing">12</text>
<path d="M678.4,403.8 L684.6,403.8" stroke="#262626" stroke-width="1.3" fill="none"/>
<g fill="none" stroke="#262626" stroke-width="1.0"><circle cx="687.90" cy="403.60" r="2.85"/><path d="M685.70,407.90 L690.20,399.20"/></g>
<text x="693.30" y="407.90" font-size="12.1" text-anchor="start" textLength="14.5" lengthAdjust="spacing">26</text>
<text x="854.80" y="246.80" font-size="16.6" text-anchor="middle" textLength="9.4" lengthAdjust="spacingAndGlyphs">K</text>
<text x="936.70" y="275.10" font-size="12.2" text-anchor="start" textLength="6.0" lengthAdjust="spacingAndGlyphs">4</text>
<path d="M945,271.5 L952.4,271.5" stroke="#262626" stroke-width="1.2" fill="none"/>
<g fill="none" stroke="#262626" stroke-width="1.0"><circle cx="956.40" cy="271.20" r="2.85"/><path d="M954.20,275.50 L958.70,266.80"/></g>
<text x="961.80" y="275.10" font-size="12.2" text-anchor="start" textLength="14.6" lengthAdjust="spacing">24</text>
<text x="1037.00" y="349.80" font-size="12.4" text-anchor="middle" transform="rotate(-90 1037.00 349.80)" textLength="21.9" lengthAdjust="spacing">440</text>
<text x="872.90" y="460.20" font-size="12.4" text-anchor="middle" textLength="21.9" lengthAdjust="spacing">440</text>
<text x="878.3" y="709.5" font-size="14.5" text-anchor="middle">T</text>
<text x="886.5" y="709.5" font-size="14.5" text-anchor="middle">D</text>
<text x="895.3" y="709.5" font-size="14.5" text-anchor="middle">2</text>
<text x="903.9" y="709.5" font-size="14.5" text-anchor="middle">5</text>
<text x="912.6" y="709.5" font-size="14.5" text-anchor="middle">0</text>
<text x="932.9" y="709.5" font-size="14.5" text-anchor="middle">3</text>
<text x="941.4" y="709.5" font-size="14.5" text-anchor="middle">2</text>
<text x="960.3" y="709.5" font-size="14.5" text-anchor="middle">4</text>
<path d="M918.8,705.1 L926.6,705.1 M946.9,711.8 L954.7,698" stroke="#262626" stroke-width="1.15" fill="none"/>
<g fill="none" stroke="#222" stroke-width="1.2"><path d="M870.2,240.2 L870.2,247 M870.2,240.2 L876.8,240.2 L876.8,246.4 L875.6,247.2 M873.8,236.8 L872.6,240 "/><rect x="872.2" y="242.2" width="2.6" height="2.8"/></g>
</g>
</svg>
</body></html>
